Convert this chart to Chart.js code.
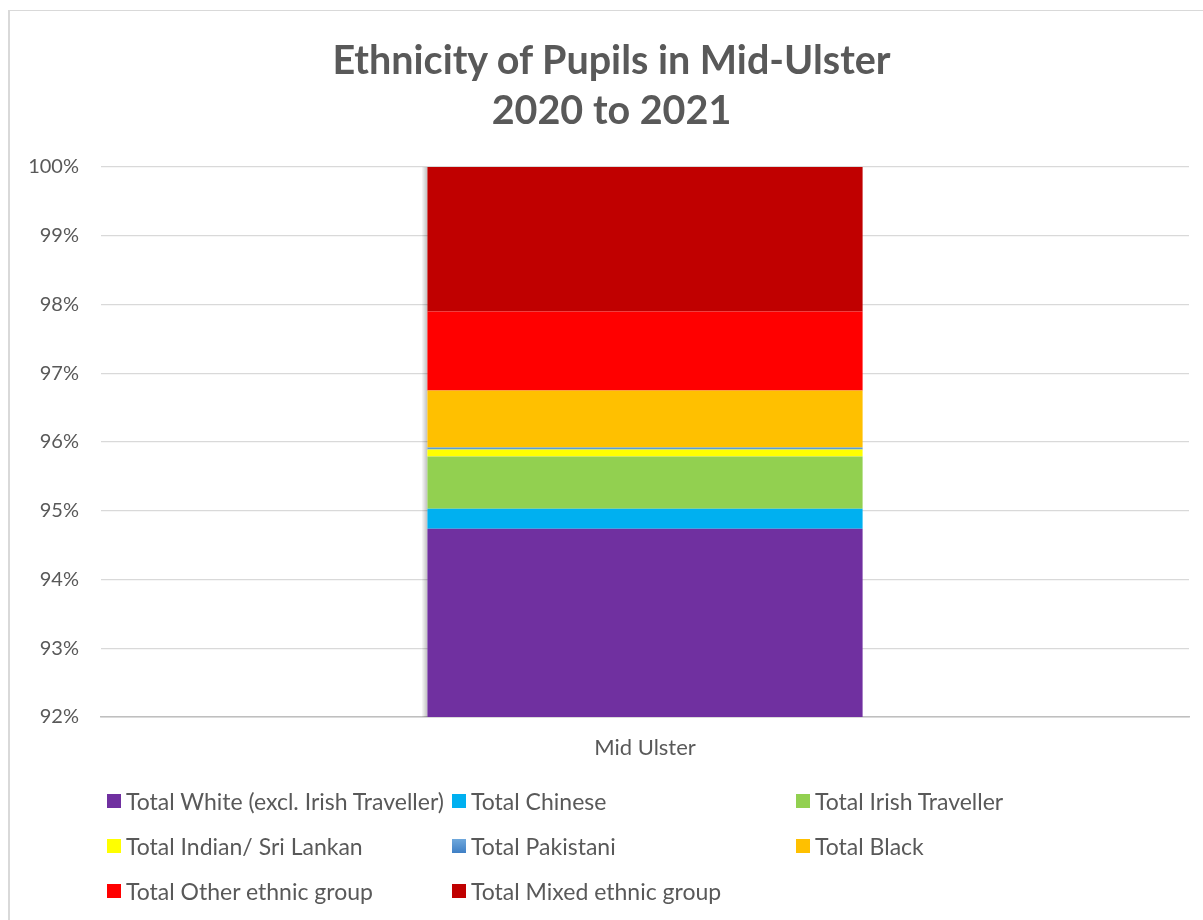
<!DOCTYPE html>
<html>
<head>
<meta charset="utf-8">
<script src="https://cdn.jsdelivr.net/npm/chart.js@4.4.1/dist/chart.umd.min.js"></script>
<style>
    html, body { margin: 0; padding: 0; background: #fff; }
    #wrap { position: relative; width: 1203px; height: 920px; overflow: hidden; font-family: Lato, sans-serif; }
    #frame { position: absolute; left: 8px; top: 10px; width: 1300px; height: 1000px; border-left: 2px solid #d9d9d9; border-top: 1px solid #d9d9d9; }
    #title { position: absolute; left: 0; width: 1223px; top: 34px; text-align: center; color: #595959; font-weight: bold; font-size: 39.5px; line-height: 50px; }
    #chart { position: absolute; left: 0; top: 0; }
    #legend { position: absolute; left: 0; top: 0; width: 1203px; height: 920px; pointer-events: none; }
    .item { position: absolute; display: flex; align-items: center; color: #595959; font-size: 23px; white-space: nowrap; }
    .sw { width: 14px; height: 14px; margin-right: 5px; }
</style>
</head>
<body>
<div id="wrap">
    <div id="frame"></div>
    <canvas id="chart" width="1203" height="920"></canvas>
    <div id="title">Ethnicity of Pupils in Mid-Ulster<br>2020 to 2021</div>
    <div id="legend"></div>
</div>
<script>
// Data (percent of pupils)
const categories = ['Mid Ulster'];
const seriesNames = [
    'Total White (excl. Irish Traveller)',
    'Total Chinese',
    'Total Irish Traveller',
    'Total Indian/ Sri Lankan',
    'Total Pakistani',
    'Total Black',
    'Total Other ethnic group',
    'Total Mixed ethnic group'
];
const seriesValues = [94.74, 0.29, 0.76, 0.10, 0.03, 0.83, 1.15, 2.10];
const seriesColors = ['#7030a0', '#00b0f0', '#92d050', '#ffff00', '#5b9bd5', '#ffc000', '#ff0000', '#c00000'];
const yTicks = [92, 93, 94, 95, 96, 97, 98, 99, 100];

const textColor = '#595959';

document.addEventListener('DOMContentLoaded', function() {
    buildChart();
    buildLegend();
});

// soft shadow down the left side of the bar, like the Excel original
const barShadow = {
    id: 'barShadow',
    beforeDatasetsDraw(chart) {
        const bars = chart.getDatasetMeta(0).data;
        if (!bars.length) return;
        const bar = bars[0];
        const top = chart.scales.y.getPixelForValue(100);
        const bottom = chart.chartArea.bottom;
        const left = bar.x - bar.width / 2;
        const ctx = chart.ctx;
        ctx.save();
        const g = ctx.createLinearGradient(left - 6, 0, left, 0);
        g.addColorStop(0, 'rgba(0,0,0,0)');
        g.addColorStop(1, 'rgba(0,0,0,0.25)');
        ctx.fillStyle = g;
        ctx.fillRect(left - 6, top, 6, bottom - top);
        ctx.restore();
    }
};

function buildChart() {
    const ctx = document.getElementById('chart').getContext('2d');

    const datasets = seriesNames.map((name, i) => ({
        label: name,
        data: [seriesValues[i]],
        backgroundColor: seriesColors[i],
        borderWidth: 0,
        barPercentage: 0.4,
        categoryPercentage: 1.0
    }));

    new Chart(ctx, {
        type: 'bar',
        data: { labels: categories, datasets: datasets },
        plugins: [barShadow],
        options: {
            responsive: false,
            animation: false,
            layout: { padding: { left: 8, right: 14, top: 167, bottom: 143 } },
            plugins: {
                legend: { display: false },
                title: { display: false },
                tooltip: { enabled: false }
            },
            scales: {
                x: {
                    stacked: true,
                    grid: { display: false, drawTicks: false },
                    border: { display: true, color: '#bfbfbf', width: 1.5 },
                    ticks: { color: textColor, font: { family: 'Lato', size: 22 }, padding: 18 },
                    afterFit: scale => { scale.height = 60; }
                },
                y: {
                    stacked: true,
                    min: 92,
                    max: 100,
                    afterBuildTicks: scale => { scale.ticks = yTicks.map(v => ({ value: v })); },
                    grid: { color: '#d9d9d9', lineWidth: 1.3, drawTicks: false },
                    border: { display: false },
                    ticks: {
                        color: textColor,
                        font: { family: 'Lato', size: 20 },
                        padding: 22,
                        callback: v => v + '%'
                    },
                    afterFit: scale => { scale.width = 93; }
                }
            }
        }
    });
}

function buildLegend() {
    const legend = document.getElementById('legend');
    const colX = [107, 452, 796];
    const rowY = [801, 846, 891];

    seriesNames.forEach((name, i) => {
        const item = document.createElement('div');
        item.className = 'item';
        item.style.left = colX[i % 3] + 'px';
        item.style.top = (rowY[Math.floor(i / 3)] - 14) + 'px';
        item.style.height = '28px';

        let bg = seriesColors[i];
        if (name === 'Total Pakistani') bg = 'linear-gradient(#6fa8dc, #3f7fc5)';

        item.innerHTML = `<span class="sw" style="background:${bg}"></span><span>${name}</span>`;
        legend.appendChild(item);
    });
}
</script>
</body>
</html>
